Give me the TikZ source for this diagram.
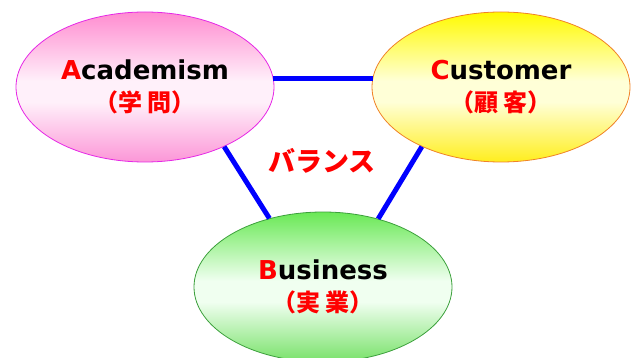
\documentclass[tikz,border=0pt]{standalone}
\usepackage{fontspec}
\setmainfont{DejaVu Sans}
\newfontfamily\cjk{Noto Sans CJK JP}
\usetikzlibrary{shapes.geometric}
\definecolor{pinkTop}{RGB}{255,140,208}
\definecolor{pinkMid}{RGB}{255,240,250}
\definecolor{pinkBot}{RGB}{252,150,215}
\definecolor{pinkEdge}{RGB}{230,40,230}
\definecolor{yelTop}{RGB}{255,250,0}
\definecolor{yelMid}{RGB}{255,255,215}
\definecolor{yelBot}{RGB}{255,238,30}
\definecolor{yelEdge}{RGB}{240,130,40}
\definecolor{grnTop}{RGB}{105,232,85}
\definecolor{grnMid}{RGB}{240,255,240}
\definecolor{grnBot}{RGB}{120,225,105}
\definecolor{grnEdge}{RGB}{60,160,60}
\definecolor{linkblue}{RGB}{0,0,255}
\definecolor{txtred}{RGB}{255,0,0}
\pgfdeclareverticalshading{pinkshade}{100bp}{color(0bp)=(pinkBot); color(25bp)=(pinkBot); color(45bp)=(pinkMid); color(52bp)=(pinkMid); color(75bp)=(pinkTop); color(100bp)=(pinkTop)}
\pgfdeclareverticalshading{yelshade}{100bp}{color(0bp)=(yelBot); color(25bp)=(yelBot); color(45bp)=(yelMid); color(52bp)=(yelMid); color(75bp)=(yelTop); color(100bp)=(yelTop)}
\pgfdeclareverticalshading{grnshade}{100bp}{color(0bp)=(grnBot); color(25bp)=(grnBot); color(45bp)=(grnMid); color(52bp)=(grnMid); color(75bp)=(grnTop); color(100bp)=(grnTop)}
\newcommand{\entitle}[2]{{\fontsize{26}{30}\selectfont\bfseries\textcolor{txtred}{#1}#2}}
\newcommand{\jptitle}[2]{{\cjk\bfseries\fontsize{24}{27}\selectfont\color{txtred}（#1\hspace{0.25em}#2）}}
\begin{document}
\begin{tikzpicture}[x=1pt,y=-1pt,
  bubble/.style={ellipse, minimum width=258pt, minimum height=150pt, inner sep=0pt, align=center, line width=0.8pt},
  link/.style={draw=linkblue, line width=5pt},
  jptxt/.style={text=txtred, font=\cjk\bfseries\fontsize{27}{31}\selectfont}]
\useasboundingbox (0,0) rectangle (634,358);
\node[bubble, draw=pinkEdge, shading=pinkshade] (A) at (145,87)
  {\entitle{A}{cademism}\\[10pt]\jptitle{学}{問}};
\node[bubble, draw=yelEdge, shading=yelshade] (C) at (501,87)
  {\entitle{C}{ustomer}\\[10pt]\jptitle{顧}{客}};
\node[bubble, draw=grnEdge, shading=grnshade] (B) at (323,287)
  {\entitle{B}{usiness}\\[10pt]\jptitle{実}{業}};
\node[jptxt] (bal) at (322,161) {バランス};
\draw[link] (A.4) -- (C.176);
\draw[link] (A.-37) -- (B.128);
\draw[link] (C.-143) -- (B.51);
\end{tikzpicture}
\end{document}
